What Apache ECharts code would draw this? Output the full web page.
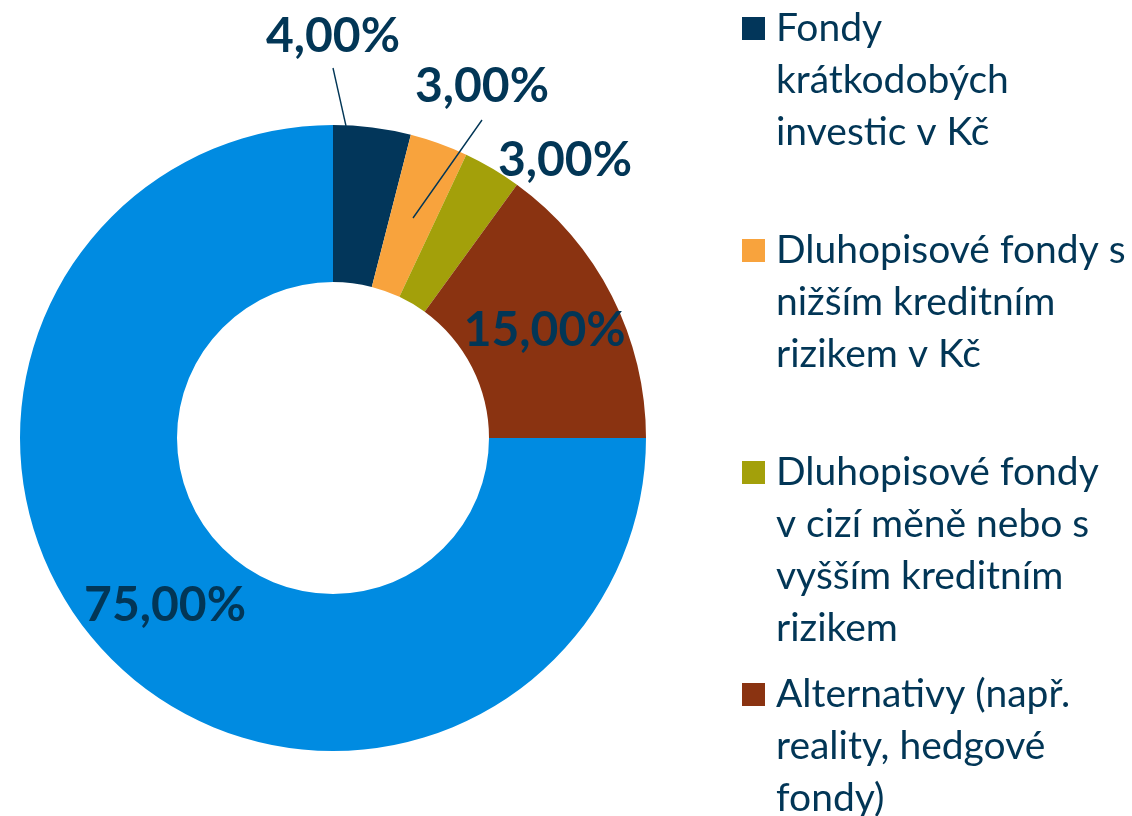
<!DOCTYPE html>
<html>
<head>
<meta charset="utf-8">
<script src="https://cdn.jsdelivr.net/npm/echarts@6/dist/echarts.min.js"></script>
<style>
html,body{margin:0;padding:0;background:#fff;}
#c{width:1132px;height:816px;}
</style>
</head>
<body>
<div id="c"></div>
<script>
// ---- data ----
const categories = [
  "Fondy\nkrátkodobých\ninvestic v Kč",
  "Dluhopisové fondy s\nnižším kreditním\nrizikem v Kč",
  "Dluhopisové fondy\nv cizí měně nebo s\nvyšším kreditním\nrizikem",
  "Alternativy (např.\nreality, hedgové\nfondy)",
  "Akciové fondy"
];
const values = [4, 3, 3, 15, 75];
const legendNames = categories.slice(0, 4);

// ---- styles / layout ----
const colors = ["#02365A", "#F8A33D", "#A3A00A", "#8A3311", "#008BE1"];
const textColor = "#023656";
const FONT = "Lato, 'Noto Sans', sans-serif";
const CX = 333, CY = 438, R_IN = 156, R_OUT = 313;
const LEG_LEFT = 742, LEG_FIRST_CENTER = 28.5, LEG_STEP = 222, LEG_LINE = 52, LEG_FONT = 39;
// label anchor placement (layout only) for the small outside labels
const outsideSpots = {
  0: { x: 333, y: 37, line: [[346, 126], [333, 68]] },
  1: { x: 482, y: 87, line: [[413, 218], [482, 120]] },
  2: { x: 565, y: 161, line: null }
};
// labels whose leader line runs over the slice are drawn by an overlay ring
const overlayLabelIdx = [1];

const chart = echarts.init(document.getElementById('c'), null, { renderer: 'canvas' });

const fmt = p => p.value.toFixed(2).replace('.', ',') + '%';

const labelBase = {
  formatter: fmt,
  fontFamily: FONT,
  fontWeight: 'bold',
  fontSize: 48,
  color: textColor
};
const lineStyle = { color: textColor, width: 1.4 };

function layoutFn(params) {
  const s = outsideSpots[params.dataIndex];
  if (!s) return {};
  const out = { x: s.x, y: s.y, align: 'center', verticalAlign: 'middle' };
  if (s.line) {
    const a = s.line[0], b = s.line[1];
    const m = [(a[0] + b[0]) / 2, (a[1] + b[1]) / 2];
    out.labelLinePoints = [a, m, b];
  }
  return out;
}

const mainData = categories.map((n, i) => {
  const small = i < 3;
  const onOverlay = overlayLabelIdx.indexOf(i) >= 0;
  return {
    name: n,
    value: values[i],
    itemStyle: { color: colors[i] },
    label: { show: !onOverlay, position: small ? 'outside' : 'inside' },
    labelLine: { show: !onOverlay && small && !!(outsideSpots[i] && outsideSpots[i].line) }
  };
});

const overlayData = categories.map((n, i) => {
  const onOverlay = overlayLabelIdx.indexOf(i) >= 0;
  return {
    name: n,
    value: values[i],
    itemStyle: { color: 'rgba(0,0,0,0)' },
    label: { show: onOverlay, position: 'outside' },
    labelLine: { show: onOverlay }
  };
});

// one legend block per entry, equally spaced; a spacer line on top keeps the icon
// aligned with the first text line (legend centres icon on the whole text block)
const legends = legendNames.map((name, i) => {
  const n = name.split('\n').length;
  const iconCenter = LEG_FIRST_CENTER + i * LEG_STEP;
  return {
    data: [name],
    orient: 'vertical',
    left: LEG_LEFT,
    top: iconCenter - (2 * n - 1) * LEG_LINE / 2,
    padding: 0,
    itemWidth: 23,
    itemHeight: 23,
    icon: 'rect',
    selectedMode: false,
    formatter: function (nm) {
      return '{s| }\n' + nm.split('\n').map(l => '{t|' + l + '}').join('\n');
    },
    textStyle: {
      fontFamily: FONT,
      fontSize: LEG_FONT,
      color: textColor,
      rich: {
        s: { fontSize: 4, lineHeight: (n - 1) * LEG_LINE, height: (n - 1) * LEG_LINE },
        t: { fontFamily: FONT, fontSize: LEG_FONT, color: textColor, lineHeight: LEG_LINE, padding: [0, 0, 0, 6] }
      }
    }
  };
});

const pieBase = {
  type: 'pie',
  center: [CX, CY],
  radius: [R_IN, R_OUT],
  startAngle: 90,
  clockwise: true,
  avoidLabelOverlap: false,
  itemStyle: { borderWidth: 0 },
  emphasis: { disabled: true },
  labelLine: { show: false, showAbove: true, lineStyle: lineStyle },
  labelLayout: layoutFn
};

chart.setOption({
  animation: false,
  backgroundColor: '#ffffff',
  legend: legends,
  series: [
    Object.assign({}, pieBase, { label: Object.assign({ show: true }, labelBase), data: mainData, z: 2 }),
    Object.assign({}, pieBase, { label: Object.assign({ show: false }, labelBase), data: overlayData, z: 5, silent: true })
  ]
});
</script>
</body>
</html>
